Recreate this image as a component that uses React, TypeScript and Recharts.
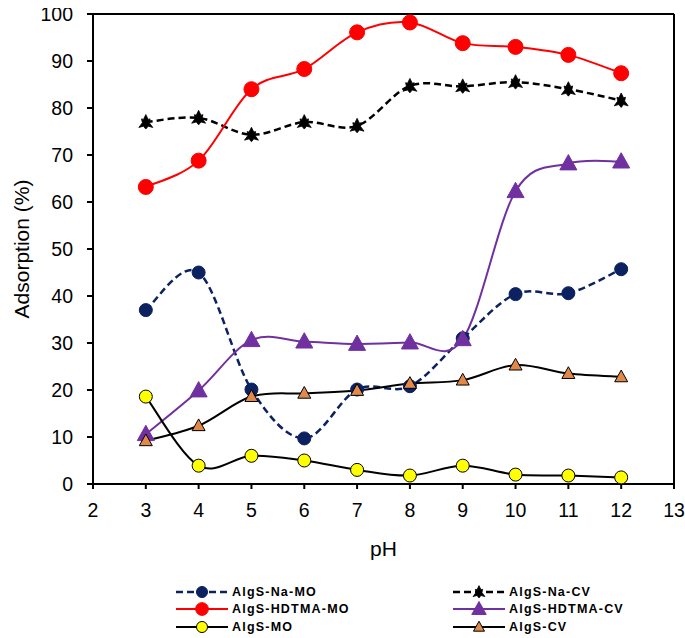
import React from 'react';
import { LineChart, Line, XAxis, YAxis, Legend, ReferenceLine, Label } from 'recharts';

const pH = [3, 4, 5, 6, 7, 8, 9, 10, 11, 12];
const algSNaMO = [37.0, 45.0, 20.1, 9.7, 20.1, 20.8, 31.0, 40.4, 40.6, 45.7];
const algSNaCV = [77.0, 77.9, 74.3, 77.0, 76.2, 84.7, 84.6, 85.5, 84.0, 81.6];
const algSHDTMAMO = [63.2, 68.8, 84.0, 88.3, 96.1, 98.2, 93.8, 93.0, 91.3, 87.4];
const algSHDTMACV = [10.6, 19.9, 30.6, 30.3, 29.8, 30.1, 30.8, 62.3, 68.2, 68.6];
const algSMO = [18.6, 3.9, 6.0, 5.0, 3.0, 1.8, 3.9, 2.0, 1.8, 1.4];
const algSCV = [9.2, 12.4, 18.6, 19.3, 19.9, 21.4, 22.1, 25.3, 23.5, 22.8];

const xTicks = [2, 3, 4, 5, 6, 7, 8, 9, 10, 11, 12, 13];
const yTicks = [0, 10, 20, 30, 40, 50, 60, 70, 80, 90, 100];

const seriesNames = {
  naMO: 'AlgS-Na-MO',
  naCV: 'AlgS-Na-CV',
  hdMO: 'AlgS-HDTMA-MO',
  hdCV: 'AlgS-HDTMA-CV',
  mo: 'AlgS-MO',
  cv: 'AlgS-CV',
};

const data = pH.map((p, i) => ({
  pH: p,
  naMO: algSNaMO[i],
  naCV: algSNaCV[i],
  hdMO: algSHDTMAMO[i],
  hdCV: algSHDTMACV[i],
  mo: algSMO[i],
  cv: algSCV[i],
}));

// Excel-like smoothed line (Catmull-Rom style Bezier)
function smoothCurve(context: any) {
  let pts: number[][] = [];
  return {
    areaStart() {},
    areaEnd() {},
    lineStart() {
      pts = [];
    },
    point(x: number, y: number) {
      pts.push([+x, +y]);
    },
    lineEnd() {
      const n = pts.length;
      if (!n) return;
      context.moveTo(pts[0][0], pts[0][1]);
      for (let i = 0; i < n - 1; i++) {
        const p0 = pts[i - 1] || pts[i];
        const p1 = pts[i];
        const p2 = pts[i + 1];
        const p3 = pts[i + 2] || p2;
        context.bezierCurveTo(
          p1[0] + (p2[0] - p0[0]) / 6,
          p1[1] + (p2[1] - p0[1]) / 6,
          p2[0] - (p3[0] - p1[0]) / 6,
          p2[1] - (p3[1] - p1[1]) / 6,
          p2[0],
          p2[1]
        );
      }
    },
  };
}

const NAVY = '#0b2160';
const RED = '#ff0000';
const PURPLE = '#7030a0';
const YELLOW = '#ffff00';
const ORANGE = '#e0894a';

type Shape = 'circle' | 'triangle' | 'star';

function marker(shape: Shape, cx: number, cy: number, size: number, fill: string, stroke: string, sw: number, key?: any) {
  if (shape === 'circle') {
    return <circle key={key} cx={cx} cy={cy} r={size} fill={fill} stroke={stroke} strokeWidth={sw} />;
  }
  if (shape === 'triangle') {
    const w = size * 2;
    const h = size * 1.8;
    const pts = `${cx},${cy - h * 0.58} ${cx + w / 2},${cy + h * 0.42} ${cx - w / 2},${cy + h * 0.42}`;
    return <polygon key={key} points={pts} fill={fill} stroke={stroke} strokeWidth={sw} strokeLinejoin="round" />;
  }
  const s = size / 7;
  const raw = [
    [0, -7], [2.2, -2.5], [4, -3], [3.2, 0.5], [6.5, 5], [2.2, 3.8], [0, 6.5],
    [-2.2, 3.8], [-6.5, 5], [-3.2, 0.5], [-4, -3], [-2.2, -2.5],
  ];
  const pts = raw.map(([x, y]) => `${cx + x * s},${cy + y * s}`).join(' ');
  return <polygon key={key} points={pts} fill={fill} stroke={stroke} strokeWidth={sw} />;
}

const seriesStyles = [
  { key: 'naMO', color: NAVY, dash: '7 4', width: 2.5, shape: 'circle' as Shape, size: 6.5, fill: NAVY, mStroke: NAVY, msw: 1 },
  { key: 'naCV', color: '#000000', dash: '7 4', width: 2.5, shape: 'star' as Shape, size: 7.5, fill: '#000000', mStroke: '#000000', msw: 0.8 },
  { key: 'hdMO', color: RED, dash: undefined, width: 2, shape: 'circle' as Shape, size: 7.5, fill: RED, mStroke: RED, msw: 1 },
  { key: 'hdCV', color: PURPLE, dash: undefined, width: 2, shape: 'triangle' as Shape, size: 8.5, fill: PURPLE, mStroke: PURPLE, msw: 1 },
  { key: 'mo', color: '#000000', dash: undefined, width: 2, shape: 'circle' as Shape, size: 6.5, fill: YELLOW, mStroke: '#000000', msw: 1 },
  { key: 'cv', color: '#000000', dash: undefined, width: 2, shape: 'triangle' as Shape, size: 6.5, fill: ORANGE, mStroke: '#000000', msw: 1 },
];

const legendLayout: Record<string, { x: number; y: number }> = {
  naMO: { x: 167, y: 9 },
  hdMO: { x: 167, y: 26 },
  mo: { x: 167, y: 44 },
  naCV: { x: 444, y: 9 },
  hdCV: { x: 444, y: 26 },
  cv: { x: 444, y: 44 },
};

function LegendContent() {
  return (
    <div style={{ position: 'relative', width: 669, height: 54 }}>
      {seriesStyles.map((s) => {
        const pos = legendLayout[s.key];
        return (
          <div
            key={s.key}
            style={{
              position: 'absolute',
              left: pos.x,
              top: pos.y - 8,
              height: 16,
              display: 'flex',
              alignItems: 'center',
              whiteSpace: 'nowrap',
            }}
          >
            <svg width={54} height={16} style={{ display: 'block' }}>
              <line x1={1} y1={8} x2={53} y2={8} stroke={s.color} strokeWidth={s.width} strokeDasharray={s.dash} />
              {marker(s.shape, 27, 8, s.size * 0.85, s.fill, s.mStroke, s.msw)}
            </svg>
            <span
              style={{
                marginLeft: 3,
                fontSize: 12.5,
                fontWeight: 'bold',
                letterSpacing: 1.2,
                color: '#000',
                fontFamily: '"Liberation Sans", Arial, sans-serif',
              }}
            >
              {(seriesNames as any)[s.key]}
            </span>
          </div>
        );
      })}
    </div>
  );
}

export default function App() {
  return (
    <div
      style={{
        width: 677,
        height: 630,
        fontFamily: '"Liberation Sans", Arial, sans-serif',
      }}
    >
      <style>{`body { margin: 8px 0 0 8px; } .recharts-surface { overflow: visible; } .recharts-wrapper { overflow: visible; }`}</style>
      <LineChart width={669} height={630} data={data} margin={{ top: 6, right: 3, left: 0, bottom: 64 }}>
        <XAxis
          dataKey="pH"
          type="number"
          domain={[2, 13]}
          ticks={xTicks}
          interval={0}
          height={90}
          tickSize={5}
          tickMargin={14}
          axisLine={{ stroke: '#000', strokeWidth: 2 }}
          tickLine={{ stroke: '#000', strokeWidth: 2 }}
          tick={{ fill: '#000', fontSize: 19.5 }}
        >
          <Label value="pH" position="insideBottom" offset={18} style={{ fill: '#000', fontSize: 21 }} />
        </XAxis>
        <YAxis
          type="number"
          domain={[0, 100]}
          ticks={yTicks}
          interval={0}
          width={85}
          tickSize={6}
          tickMargin={14}
          axisLine={{ stroke: '#000', strokeWidth: 2 }}
          tickLine={{ stroke: '#000', strokeWidth: 2 }}
          tick={{ fill: '#000', fontSize: 19.5 }}
        >
          <Label
            value="Adsorption (%)"
            angle={-90}
            position="insideLeft"
            offset={14}
            style={{ fill: '#000', fontSize: 21, textAnchor: 'middle' }}
          />
        </YAxis>
        <ReferenceLine y={100} stroke="#000" strokeWidth={2} ifOverflow="visible" />
        <ReferenceLine x={13} stroke="#000" strokeWidth={2} ifOverflow="visible" />
        {seriesStyles.map((s) => (
          <Line
            key={s.key}
            dataKey={s.key}
            name={(seriesNames as any)[s.key]}
            type={smoothCurve as any}
            stroke={s.color}
            strokeWidth={s.width}
            strokeDasharray={s.dash}
            isAnimationActive={false}
            activeDot={false}
            dot={(props: any) => {
              const { cx, cy, index } = props;
              if (cx == null || cy == null) return <g key={`e-${s.key}-${index}`} />;
              return marker(s.shape, cx, cy, s.size, s.fill, s.mStroke, s.msw, `${s.key}-${index}`);
            }}
          />
        ))}
        <Legend
          verticalAlign="middle"
          align="center"
          layout="horizontal"
          wrapperStyle={{ left: 0, top: 575, width: 669, height: 54 }}
          content={() => <LegendContent />}
        />
      </LineChart>
    </div>
  );
}
